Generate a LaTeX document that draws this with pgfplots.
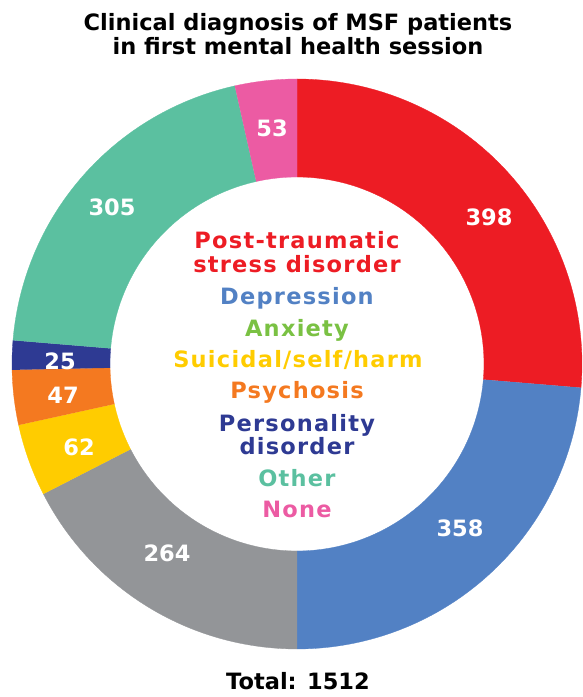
\documentclass[border=0pt]{standalone}
\usepackage{pgfplots}
\pgfplotsset{compat=1.18}
\usepackage{fontspec}
\setmainfont{DejaVu Sans}
\newfontfamily\cfont{DejaVu Sans}[LetterSpace=5.5]
\definecolor{cRed}{HTML}{ED1C24}
\definecolor{cBlue}{HTML}{5281C4}
\definecolor{cGray}{HTML}{939598}
\definecolor{cYellow}{HTML}{FFCC00}
\definecolor{cOrange}{HTML}{F47920}
\definecolor{cNavy}{HTML}{2E3A93}
\definecolor{cTeal}{HTML}{5BC0A0}
\definecolor{cPink}{HTML}{EC5BA3}
\definecolor{cGreen}{HTML}{7AC143}
% slice from cumulative count #1 to #2 (of 1512), clockwise from top
\newcommand{\slice}[3]{%
\addplot[fill=#3, draw=#3, line width=0.3pt, mark=none, samples at={0,1,...,300}, variable=\t]
 ({297+(285-98*min(max(\t-100,0),100)/100)*cos(90-360*(#1+(#2-#1)*(min(\t,100)-max(\t-200,0))/100)/1512)},
  {333+(285-98*min(max(\t-100,0),100)/100)*sin(90-360*(#1+(#2-#1)*(min(\t,100)-max(\t-200,0))/100)/1512)});
}
\newcommand{\bigf}{\fontsize{22.5}{26}\selectfont\bfseries}
\newcommand{\cenf}{\cfont\fontsize{22.5}{26}\selectfont\bfseries}
\begin{document}
\begin{tikzpicture}
\begin{axis}[x=1pt, y=1pt, xmin=0, xmax=582, ymin=0, ymax=697,
  hide axis, scale only axis, clip=false]
% values: 398, 358, 264, 62, 47, 25, 305, 53 (total 1512)
\slice{0}{398}{cRed}
\slice{398}{756}{cBlue}
\slice{756}{1020}{cGray}
\slice{1020}{1082}{cYellow}
\slice{1082}{1129}{cOrange}
\slice{1129}{1154}{cNavy}
\slice{1154}{1459}{cTeal}
\slice{1459}{1512}{cPink}
\path (rel axis cs:0,0) (rel axis cs:1,1);
% value labels
\node[white, font=\bigf] at (axis cs:489,480) {398};
\node[white, font=\bigf] at (axis cs:460,169) {358};
\node[white, font=\bigf] at (axis cs:167,144) {264};
\node[white, font=\bigf] at (axis cs:79,250) {62};
\node[white, font=\bigf] at (axis cs:63,302) {47};
\node[white, font=\bigf] at (axis cs:60,336) {25};
\node[white, font=\bigf] at (axis cs:112,490) {305};
\node[white, font=\bigf] at (axis cs:272,569) {53};
% centre legend
\node[cRed, font=\cenf, anchor=base] at (axis cs:297,448) {Post-traumatic};
\node[cRed, font=\cenf, anchor=base] at (axis cs:297,424) {stress disorder};
\node[cBlue, font=\cenf, anchor=base] at (axis cs:297,392) {Depression};
\node[cGreen, font=\cenf, anchor=base] at (axis cs:297,360) {Anxiety};
\node[cYellow, font=\cenf, anchor=base] at (axis cs:298,329) {Suicidal/self/harm};
\node[cOrange, font=\cenf, anchor=base] at (axis cs:297,298) {Psychosis};
\node[cNavy, font=\cenf, anchor=base] at (axis cs:297,265) {Personality};
\node[cNavy, font=\cenf, anchor=base] at (axis cs:297,242) {disorder};
\node[cTeal, font=\cenf, anchor=base] at (axis cs:297,210) {Other};
\node[cPink, font=\cenf, anchor=base] at (axis cs:297,179) {None};
% title and total
\node[black, font=\bigf, anchor=base] at (axis cs:298,666) {Clinical diagnosis of MSF patients};
\node[black, font=\bigf, anchor=base] at (axis cs:298,642) {in first mental health session};
\node[black, font=\bigf, anchor=base] at (axis cs:298,7) {Total: 1512};
\end{axis}
\end{tikzpicture}
\end{document}
